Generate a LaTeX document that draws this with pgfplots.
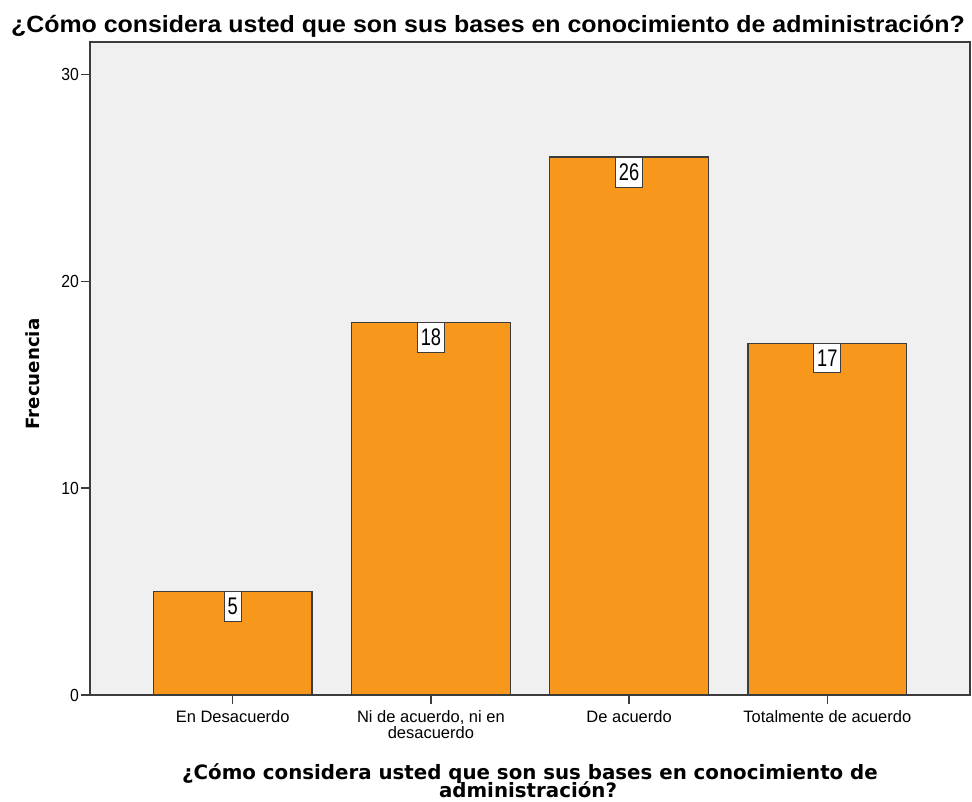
\documentclass[border=0pt]{standalone}
\usepackage{fontspec}
\setmainfont{Liberation Sans}
\newfontfamily\titlefont{Liberation Sans}[FakeStretch=1.06]
\newfontfamily\valuefont{Liberation Sans}[FakeStretch=0.76]
\newfontfamily\ticknumfont{Liberation Sans}[FakeStretch=0.9]
\newfontfamily\labelfont{DejaVu Sans}
\usepackage{pgfplots}
\pgfplotsset{compat=1.18}

\definecolor{barorange}{RGB}{247,152,29}
\definecolor{plotbg}{RGB}{240,240,240}
\definecolor{edge}{RGB}{60,60,60}

\begin{document}
\begin{tikzpicture}[x=1pt,y=1pt]
\useasboundingbox (0,0) rectangle (972,801);
\begin{axis}[
  at={(90pt,106pt)}, anchor=south west,
  width=880pt, height=653pt, scale only axis,
  xmin=-0.72, xmax=3.72, ymin=0, ymax=31.56,
  axis background/.style={fill=plotbg},
  axis line style={edge, line width=1.3pt},
  ybar, bar width=0.8, bar shift=0pt,
  xtick={0,1,2,3},
  xticklabels={En Desacuerdo, {Ni de acuerdo, ni en\\desacuerdo}, De acuerdo, Totalmente de acuerdo},
  xticklabel style={align=center, font=\fontsize{16.5}{16}\selectfont, inner sep=2pt, yshift=-4pt},
  ytick={0,10,20,30},
  yticklabel style={font=\ticknumfont\fontsize{17.5}{18}\selectfont, inner sep=2pt},
  /pgf/number format/assume math mode=true,
  tick pos=left, tick align=outside,
  major tick length=9pt,
  tick style={edge, line width=1.3pt},
  nodes near coords,
  nodes near coords style={anchor=north, fill=white, draw=edge, line width=1pt,
    inner xsep=3.5pt, inner ysep=6.5pt, outer sep=0pt,
    font=\valuefont\fontsize{24}{24}\selectfont, text=black},
]
\addplot[fill=barorange, draw=edge, line width=1.1pt] coordinates {(0,5) (1,18) (2,26) (3,17)};
\end{axis}
\node[anchor=base, font=\titlefont\bfseries\fontsize{23.5}{26}\selectfont] at (488,768)
  {¿Cómo considera usted que son sus bases en conocimiento de administración?};
\node[rotate=90, font=\labelfont\bfseries\fontsize{18.2}{20}\selectfont] at (33,427) {Frecuencia};
\node[anchor=base, font=\labelfont\bfseries\fontsize{19.8}{20}\selectfont] at (530,22)
  {¿Cómo considera usted que son sus bases en conocimiento de};
\node[anchor=base, font=\labelfont\bfseries\fontsize{19.8}{20}\selectfont] at (528,4)
  {administración?};
\end{tikzpicture}
\end{document}
